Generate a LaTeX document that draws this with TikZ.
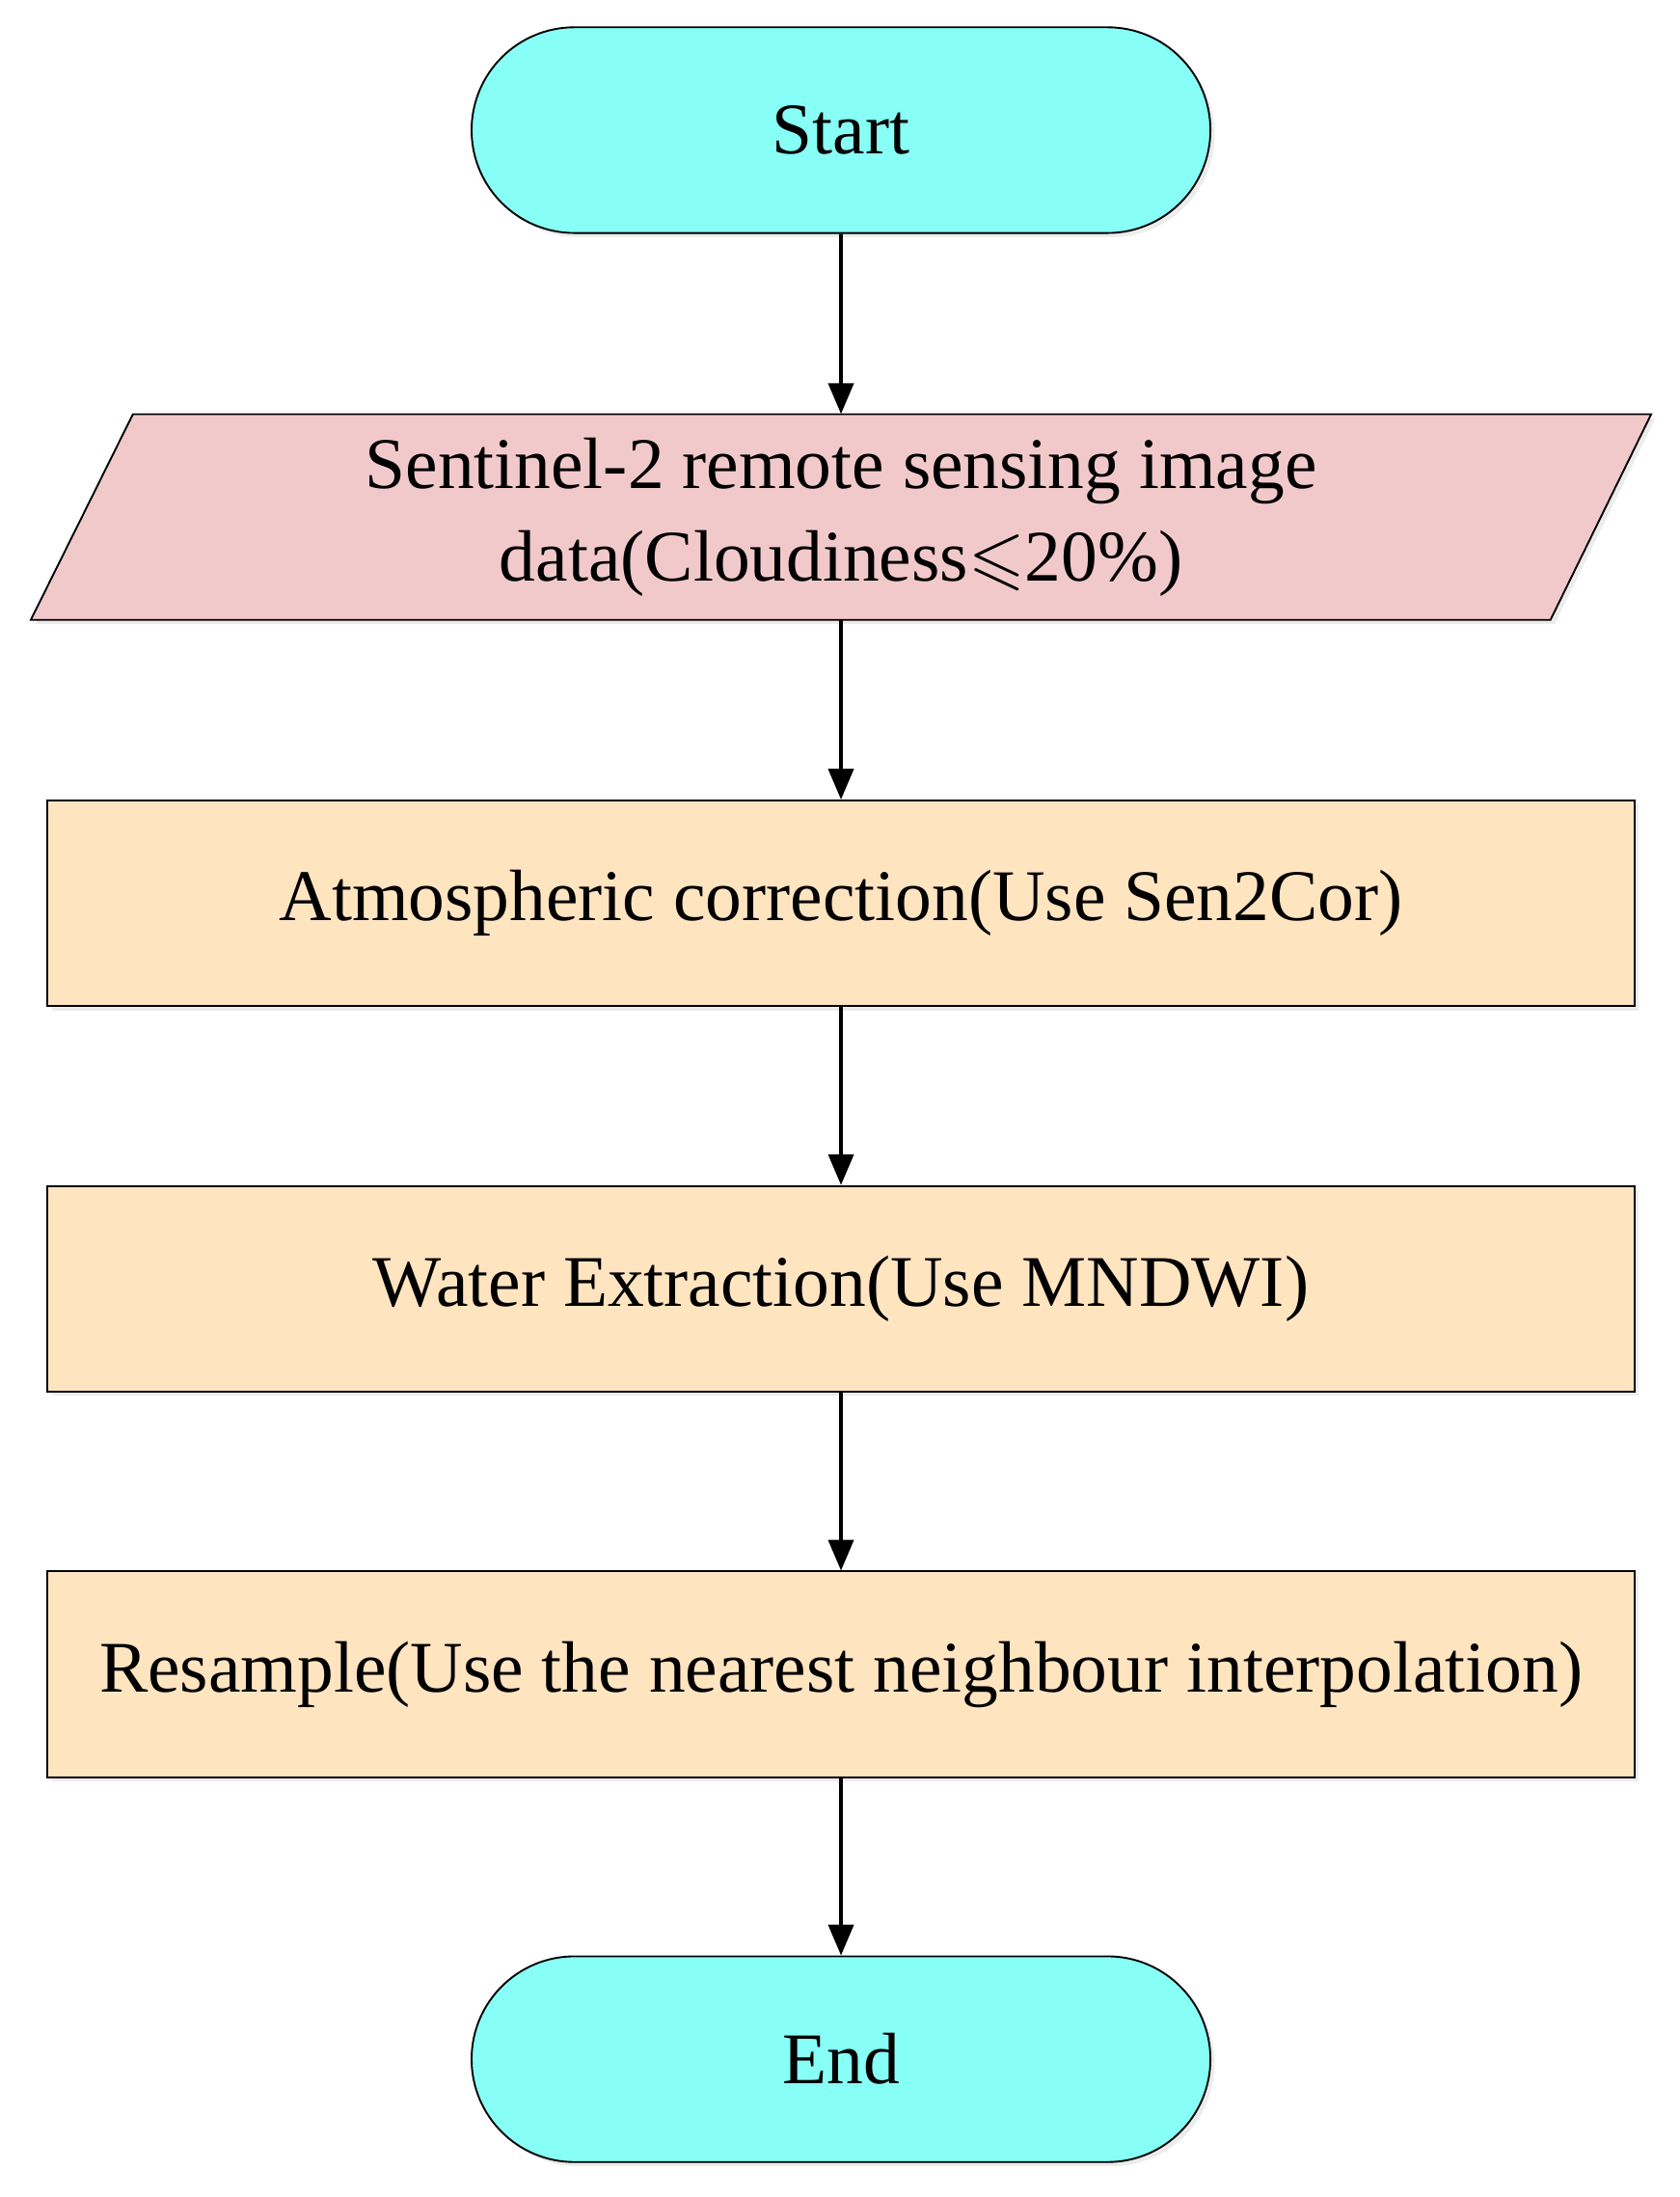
\documentclass[tikz,border=0pt]{standalone}
\usepackage{amssymb}
\usepackage{fontspec}
\setmainfont{Liberation Serif}
\usetikzlibrary{arrows.meta,shapes.misc,shadows}
\begin{document}
\begin{tikzpicture}[x=1pt,y=-1pt,
  base/.style={draw=black,line width=1.3pt,font=\fontsize{52}{62}\selectfont,align=center,inner sep=0pt,
    drop shadow={shadow xshift=3pt,shadow yshift=-3pt,fill=black!12,opacity=0.6}},
  term/.style={base,rounded rectangle,fill=cyanfill,minimum width=528,minimum height=147},
  proc/.style={base,rectangle,fill=procfill,minimum width=1134,minimum height=147},
  arr/.style={-{Triangle[length=22pt,width=18pt]},line width=2.5pt}]
\definecolor{cyanfill}{HTML}{88FFF6}
\definecolor{procfill}{HTML}{FFE4C0}
\definecolor{pinkfill}{HTML}{F2C9CA}
\useasboundingbox (0,0) rectangle (1200,1570);
\node[term] (start) at (601,93) {Start};
\fill[black!12,opacity=0.6] (98,299) -- (1183,299) -- (1111,446) -- (25,446) -- cycle;
\filldraw[fill=pinkfill,draw=black,line width=1.3pt] (95,296) -- (1180,296) -- (1108,443) -- (22,443) -- cycle;
\node[font=\fontsize{52}{66}\selectfont,align=center,minimum width=1085,minimum height=147,inner sep=0pt] (data) at (601,369.5) {Sentinel-2 remote sensing image\\data(Cloudiness$\leqslant$20\%)};
\node[proc] (atm) at (601,645.5) {Atmospheric correction(Use Sen2Cor)};
\node[proc] (water) at (601,921) {Water Extraction(Use MNDWI)};
\node[proc] (res) at (601,1196.5) {Resample(Use the nearest neighbour interpolation)};
\node[term] (end) at (601,1471.5) {End};
\draw[arr] (start) -- (data);
\draw[arr] (data) -- (atm);
\draw[arr] (atm) -- (water);
\draw[arr] (water) -- (res);
\draw[arr] (res) -- (end);
\end{tikzpicture}
\end{document}
